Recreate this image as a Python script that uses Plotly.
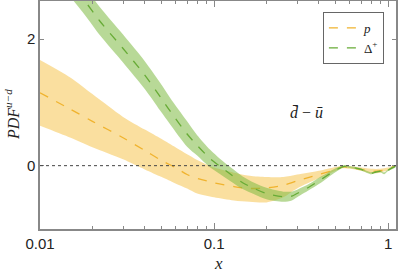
import plotly.graph_objects as go

# ---- data ----
p_x = [0.01, 0.015, 0.02, 0.03, 0.04, 0.05, 0.06, 0.07, 0.08, 0.1, 0.13, 0.16, 0.2,
       0.25, 0.3, 0.4, 0.5, 0.55, 0.6, 0.7, 0.8, 0.9, 1.0, 1.1]
p_mid = [1.15, 0.89, 0.70, 0.44, 0.24, 0.08, -0.03, -0.14, -0.20, -0.27, -0.33, -0.36, -0.35,
         -0.31, -0.24, -0.14, -0.06, -0.02, -0.03, -0.06, -0.09, -0.08, -0.05, 0.0]
p_up = [1.67, 1.39, 1.13, 0.77, 0.57, 0.42, 0.29, 0.18, 0.09, -0.03, -0.11, -0.16, -0.18,
        -0.18, -0.14, -0.08, -0.02, 0.0, -0.01, -0.03, -0.05, -0.05, -0.03, 0.0]
p_lo = [0.63, 0.44, 0.29, 0.10, -0.06, -0.18, -0.28, -0.36, -0.44, -0.50, -0.55, -0.57, -0.58,
        -0.50, -0.36, -0.20, -0.08, -0.04, -0.05, -0.08, -0.12, -0.11, -0.07, 0.0]

d_x = [0.014, 0.0181, 0.0221, 0.03, 0.04, 0.049, 0.056, 0.07, 0.08, 0.095, 0.108, 0.125,
       0.146, 0.17, 0.2, 0.25, 0.28, 0.3, 0.35, 0.4, 0.45, 0.5, 0.56, 0.6, 0.7, 0.8,
       0.85, 0.9, 0.95, 1.0, 1.1]
d_mid = [2.98, 2.60, 2.28, 1.85, 1.43, 1.09, 0.86, 0.50, 0.32, 0.11, -0.01, -0.14,
         -0.27, -0.36, -0.44, -0.49, -0.48, -0.44, -0.34, -0.24, -0.15, -0.07, -0.01, -0.02,
         -0.06, -0.12, -0.10, -0.09, -0.12, -0.07, -0.01]
d_up = [3.20, 2.82, 2.50, 2.07, 1.65, 1.31, 1.07, 0.70, 0.48, 0.25, 0.11, -0.03,
        -0.17, -0.27, -0.35, -0.41, -0.41, -0.38, -0.29, -0.19, -0.11, -0.04, 0.005, -0.005,
        -0.045, -0.105, -0.085, -0.075, -0.105, -0.055, 0.005]
d_lo = [2.76, 2.38, 2.06, 1.63, 1.21, 0.87, 0.65, 0.30, 0.16, -0.03, -0.13, -0.25,
        -0.37, -0.45, -0.53, -0.57, -0.55, -0.50, -0.39, -0.29, -0.19, -0.10, -0.025, -0.035,
        -0.075, -0.135, -0.115, -0.105, -0.135, -0.085, -0.025]

x_tickvals = [0.01, 0.1, 1]
x_ticktext = ["0.01", "0.1", "1"]
y_tickvals = [0, 2]
y_ticktext = ["0", "2"]
names = ["<i>p</i>", "Δ<sup>+</sup>"]

ORANGE_LINE = "#F0B32E"
ORANGE_FILL = "rgba(246,196,80,0.55)"
GREEN_LINE = "#67AB36"
GREEN_FILL = "rgba(125,185,65,0.55)"

fig = go.Figure()

fig.add_trace(go.Scatter(x=p_x + p_x[::-1], y=p_up + p_lo[::-1], fill="toself",
                         fillcolor=ORANGE_FILL, line=dict(width=0, shape="spline", smoothing=0.8),
                         mode="lines", hoverinfo="skip", showlegend=False))
fig.add_trace(go.Scatter(x=p_x, y=p_mid, mode="lines", name=names[0],
                         line=dict(color=ORANGE_LINE, width=1.3, dash="dash",
                                   shape="spline", smoothing=0.8)))
fig.add_trace(go.Scatter(x=d_x + d_x[::-1], y=d_up + d_lo[::-1], fill="toself",
                         fillcolor=GREEN_FILL, line=dict(width=0, shape="spline", smoothing=0.8),
                         mode="lines", hoverinfo="skip", showlegend=False))
fig.add_trace(go.Scatter(x=d_x, y=d_mid, mode="lines", name=names[1],
                         line=dict(color=GREEN_LINE, width=1.3, dash="dash",
                                   shape="spline", smoothing=0.8)))

fig.add_shape(type="line", xref="paper", x0=0, x1=1, yref="y", y0=0, y1=0,
              line=dict(color="#444", width=1, dash="dot"), layer="above")

fig.add_annotation(x=0.80, y=0.51, xref="paper", yref="paper",
                   text="<i>d̄</i> − <i>ū</i>", showarrow=False,
                   font=dict(family="Liberation Serif", size=16, color="#222"))

# axis titles as annotations for precise placement
fig.add_annotation(x=0.5, y=0, xref="paper", yref="paper", yanchor="middle",
                   yshift=-34, text="<i>x</i>", showarrow=False,
                   font=dict(family="Liberation Serif", size=17, color="#222"))
fig.add_annotation(x=0, y=0.5, xref="paper", yref="paper", xanchor="center",
                   xshift=-28, textangle=-90,
                   text="<i>PDF</i><sup><i>u−d</i></sup>", showarrow=False,
                   font=dict(family="Liberation Serif", size=16, color="#222"))

axis_common = dict(showline=True, linecolor="#888", linewidth=1.5, mirror="ticks",
                   ticks="inside", tickcolor="#888", showgrid=False, zeroline=False,
                   automargin=False,
                   tickfont=dict(family="Liberation Sans", size=15, color="#222"))

fig.update_xaxes(type="log", range=[-2, 0.0453], tickvals=x_tickvals, ticktext=x_ticktext,
                 ticklen=6, minor=dict(ticks="inside", ticklen=3, tickcolor="#888",
                                       dtick="D1", showgrid=False),
                 **axis_common)
fig.update_yaxes(range=[-1, 2.6], tickvals=y_tickvals, ticktext=y_ticktext, ticklen=4,
                 **axis_common)

fig.update_layout(
    width=399, height=272,
    margin=dict(l=40, r=3, t=1, b=43, autoexpand=False),
    plot_bgcolor="white", paper_bgcolor="white",
    legend=dict(x=0.966, y=0.952, xanchor="right", yanchor="top",
                bordercolor="#666", borderwidth=1, bgcolor="white",
                font=dict(family="Liberation Serif", size=13, color="#222"),
                tracegroupgap=0, itemwidth=30),
)

fig.write_html("out.html", config={"displayModeBar": False},
               post_script="document.body.style.margin='0';")
